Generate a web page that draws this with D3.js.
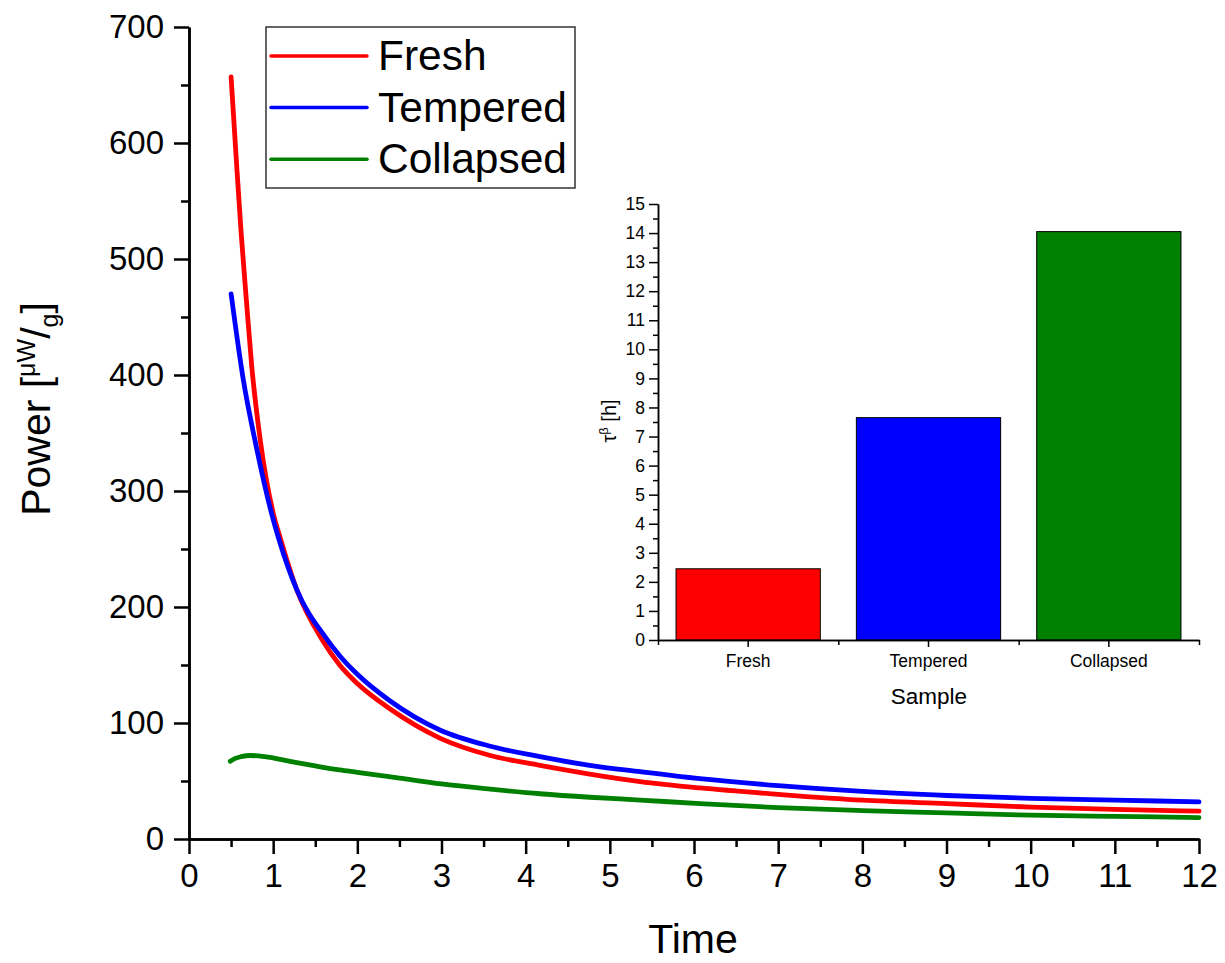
<!DOCTYPE html>
<html>
<head>
<meta charset="utf-8">
<title>Power vs Time</title>
<style type="text/css">
body { margin:0; background:#fff; }
svg { font-family: "Liberation Sans", Arial, sans-serif; }
.axis path, .axis line { stroke:#000; }
.main .axis path, .main .axis line { stroke-width:2.5px; }
.main .axis text { font-size:33px; fill:#000; }
.inset .axis path, .inset .axis line { stroke-width:1.5px; }
.inset .axis text { font-size:17.5px; fill:#000; }
.curve { fill:none; stroke-width:4.8px; stroke-linejoin:round; stroke-linecap:round; }
.bar { stroke:#000; stroke-width:1px; }
</style>
</head>
<body>
<div id="chart"></div>
<script src="https://cdn.jsdelivr.net/npm/d3@7"></script>
<script type="text/javascript">

// curves: [time, power µW/g]
var fresh = [[0.50,657],[0.56,588],[0.62,522],[0.68,466],[0.745,408],[0.85,342],[1.0,281],[1.09,258],
	[1.28,215],[1.58,172],[1.79,150],[2.0,134],[2.39,112],[2.98,87],[3.58,72],[4.17,63.5],[4.76,56],[5.36,49.5],
	[6.07,44],[7.0,38.5],[8.0,33.5],[9.0,30.5],[10.0,27.5],[11.0,25.5],[12.0,24]];

var tempered = [[0.50,470],[0.645,396],[0.80,338],[0.98,281],[1.07,258],[1.28,215],[1.62,174],[1.79,158],
	[2.0,142],[2.39,119],[2.98,94],[3.58,80],[4.17,71],[4.76,63.5],[5.36,58],[6.07,52],[7.0,46],[8.0,41],
	[9.0,37.5],[10.0,35],[11.0,33.5],[12.0,32]];

var collapsed = [[0.49,67],[0.55,69.5],[0.62,71],[0.73,72],[0.9,71],[1.2,67],[1.5,63],[1.79,59.5],
	[2.0,57.5],[2.5,52.5],[3.0,47.5],[3.58,43],[4.17,39],[4.76,36],[5.36,33.6],[6.07,30.5],[7.0,27],[8.0,24.5],
	[9.0,22.5],[10.0,20.5],[11.0,19.5],[12.0,18.5]];

var seriesNames = ["Fresh","Tempered","Collapsed"];
var seriesColors = ["#ff0000","#0000ff","#008000"];

// inset bars
var samples = ["Fresh","Tempered","Collapsed"];
var tau = [2.45, 7.65, 14.05];

var xTicks = d3.range(0, 13, 1);
var xMinor = d3.range(0.5, 12, 1);
var yTicks = d3.range(0, 701, 100);
var yMinor = d3.range(50, 700, 100);
var insetTicks = d3.range(0, 16, 1);
var insetMinor = d3.range(0.5, 15, 1);

var width = 1225, height = 963;

var svg = d3.select("#chart").append("svg")
	.attr("width", width)
	.attr("height", height);

// main chart
var x = d3.scaleLinear().domain([0,12]).range([189,1199]);
var y = d3.scaleLinear().domain([0,700]).range([839,27]);

var main = svg.append("g").attr("class","main");

main.append("g")
	.attr("class","axis")
	.attr("transform","translate(0,839)")
	.call(d3.axisBottom(x).tickValues(xMinor).tickSize(8).tickSizeOuter(0).tickFormat(""));

main.append("g")
	.attr("class","axis")
	.attr("transform","translate(0,839)")
	.call(d3.axisBottom(x).tickValues(xTicks).tickSize(15).tickSizeOuter(0).tickPadding(10));

main.append("g")
	.attr("class","axis")
	.attr("transform","translate(189,0)")
	.call(d3.axisLeft(y).tickValues(yMinor).tickSize(8).tickSizeOuter(0).tickFormat(""));

main.append("g")
	.attr("class","axis")
	.attr("transform","translate(189,0)")
	.call(d3.axisLeft(y).tickValues(yTicks).tickSize(15).tickSizeOuter(0).tickPadding(10));

main.append("text")
	.attr("x", 693)
	.attr("y", 953)
	.attr("text-anchor","middle")
	.style("font-size","41px")
	.text("Time");

var ylab = main.append("text")
	.attr("transform","translate(50,409) rotate(-90)")
	.attr("text-anchor","middle")
	.style("font-size","41px");
ylab.append("tspan").text("Power [");
ylab.append("tspan").attr("dy",-15).style("font-size","25px").text("\u03bcW");
ylab.append("tspan").attr("dy",15).text("/");
ylab.append("tspan").attr("dy",8).style("font-size","25px").text("g");
ylab.append("tspan").attr("dy",-8).text("]");

var line = d3.line()
	.x(function(d){ return x(d[0]); })
	.y(function(d){ return y(d[1]); })
	.curve(d3.curveMonotoneX);

[fresh, tempered, collapsed].forEach(function(s, i){
	main.append("path")
		.datum(s)
		.attr("class","curve")
		.attr("stroke", seriesColors[i])
		.attr("d", line);
});

// legend
var legend = main.append("g").attr("class","legend");

legend.append("rect")
	.attr("x",266).attr("y",27)
	.attr("width",309).attr("height",161)
	.attr("fill","#fff")
	.attr("stroke","#333")
	.attr("stroke-width",1.5);

var legend_g = legend.selectAll(".legend_item")
	.data(seriesNames)
	.enter().append("g")
	.attr("class","legend_item")
	.attr("transform",function(d,i){ return "translate(0,"+(56 + i*51.6)+")"; });

legend_g.append("line")
	.attr("x1",271).attr("x2",367)
	.attr("stroke",function(d,i){ return seriesColors[i]; })
	.attr("stroke-width",3.5)
	.attr("stroke-linecap","round");

legend_g.append("text")
	.attr("x",378)
	.attr("y",14)
	.style("font-size","42.5px")
	.text(String);

// inset bar chart
var inset = svg.append("g").attr("class","inset");

var ix = d3.scaleBand().domain(samples).range([658,1199]).paddingInner(0.2).paddingOuter(0.1);
var iy = d3.scaleLinear().domain([0,15]).range([640,204]);

inset.selectAll(".bar")
	.data(samples)
	.enter().append("rect")
	.attr("class","bar")
	.attr("x",function(d){ return ix(d); })
	.attr("width",ix.bandwidth())
	.attr("y",function(d,i){ return iy(tau[i]); })
	.attr("height",function(d,i){ return iy(0) - iy(tau[i]); })
	.attr("fill",function(d,i){ return seriesColors[i]; });

inset.append("g")
	.attr("class","axis")
	.attr("transform","translate(658,0)")
	.call(d3.axisLeft(iy).tickValues(insetMinor).tickSize(5).tickSizeOuter(0).tickFormat(""));

inset.append("g")
	.attr("class","axis")
	.attr("transform","translate(658,0)")
	.call(d3.axisLeft(iy).tickValues(insetTicks).tickSize(9).tickSizeOuter(0).tickPadding(4));

// boundaries between categories get short ticks
var step = ix.step();
var bounds = d3.range(0, samples.length + 1).map(function(i){ return 658 + i*step; });
var ixLin = d3.scaleLinear().domain([658,1199]).range([658,1199]);

inset.append("g")
	.attr("class","axis")
	.attr("transform","translate(0,640)")
	.call(d3.axisBottom(ixLin).tickValues(bounds).tickSize(5).tickSizeOuter(0).tickFormat(""));

inset.append("g")
	.attr("class","axis")
	.attr("transform","translate(0,640)")
	.call(d3.axisBottom(ix).tickSize(7).tickSizeOuter(0).tickPadding(8));

inset.append("text")
	.attr("x",929)
	.attr("y",704)
	.attr("text-anchor","middle")
	.style("font-size","22.5px")
	.text("Sample");

var ilab = inset.append("text")
	.attr("transform","translate(616,421) rotate(-90)")
	.attr("text-anchor","middle")
	.style("font-size","20px");
ilab.append("tspan").text("\u03c4");
ilab.append("tspan").attr("dy",-8).style("font-size","13px").text("\u03b2");
ilab.append("tspan").attr("dy",8).text(" [h]");

</script>
</body>
</html>
